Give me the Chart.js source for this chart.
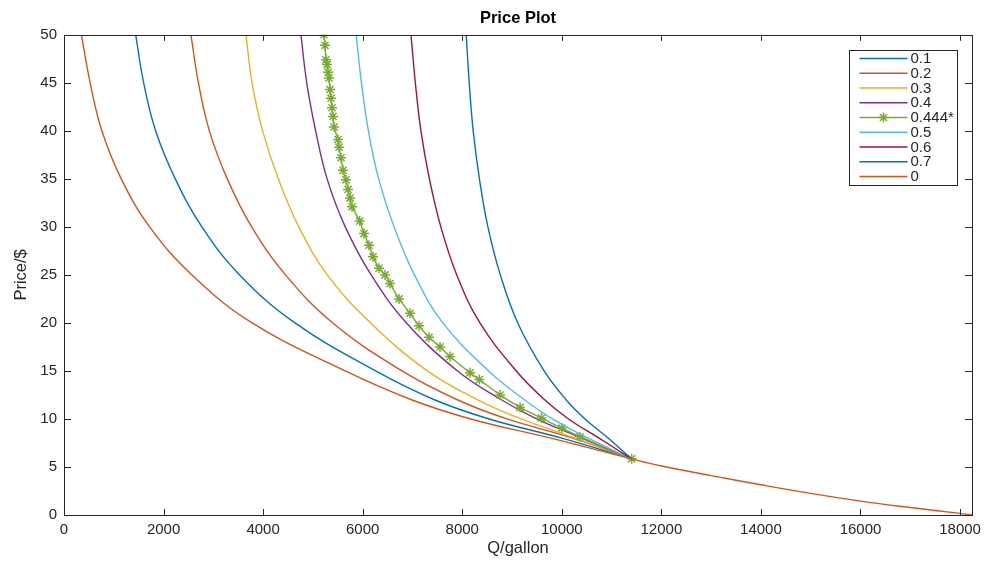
<!DOCTYPE html>
<html>
<head>
<meta charset="utf-8">
<script src="https://cdn.jsdelivr.net/npm/chart.js@4.4.1/dist/chart.umd.min.js"></script>
<style>
html,body{margin:0;padding:0;background:#ffffff;}
#c{display:block;}
</style>
</head>
<body>
<canvas id="c" width="989" height="562"></canvas>
<script>
// ---------- data ----------
const seriesLabels = ['0.1', '0.2', '0.3', '0.4', '0.444*', '0.5', '0.6', '0.7', '0'];
const xTicks = [0, 2000, 4000, 6000, 8000, 10000, 12000, 14000, 16000, 18000];
const yTicks = [0, 5, 10, 15, 20, 25, 30, 35, 40, 45, 50];

const Q_01 = [1440, 1600, 1840, 2235, 2770, 3528, 4640, 6260, 7440, 8540, 10000, 11400];
const P_01 = [50, 45, 40, 35, 30, 25, 20, 15, 12, 10, 8, 5.85];

const Q_02 = [2550, 2700, 2920, 3280, 3770, 4450, 5400, 6790, 7900, 8900, 10220, 11400];
const P_02 = [50, 45, 40, 35, 30, 25, 20, 15, 12, 10, 8, 5.85];

const Q_03 = [3655, 3778, 3990, 4305, 4718, 5290, 6160, 7300, 8308, 9185, 10268, 11400];
const P_03 = [50, 45, 40, 35, 30, 25, 20, 15, 12, 10, 8, 5.85];

const Q_04 = [4760, 4876, 5055, 5285, 5650, 6170, 6880, 7905, 8785, 9495, 10400, 11400];
const P_04 = [50, 45, 40, 35, 30, 25, 20, 15, 12, 10, 8, 5.85];

const Q_0444 = [5220, 5243, 5263, 5284, 5304, 5324, 5344, 5364, 5384, 5404, 5424, 5505, 5525, 5565, 5605, 5665, 5706, 5746, 5786, 5940,
                6027, 6127, 6208, 6328, 6449, 6549, 6730, 6951, 7132, 7333, 7554, 7755, 8156, 8344, 8759, 9161, 9590, 10000, 10366, 11405];
const P_0444 = [50, 48.9, 47.4, 46.9, 46.1, 45.5, 44.3, 43.4, 42.4, 41.5, 40.4, 39.1, 38.3, 37.2, 35.9, 34.9, 33.9, 33.0, 32.1, 30.6,
                29.3, 28.1, 26.9, 25.7, 25.0, 24.1, 22.5, 21.0, 19.7, 18.5, 17.5, 16.5, 14.8, 14.1, 12.5, 11.2, 10.1, 9.05, 8.15, 5.85];

const Q_05 = [5870, 5975, 6115, 6320, 6630, 7040, 7610, 8530, 9250, 9810, 10530, 11400];
const P_05 = [50, 45, 40, 35, 30, 25, 20, 15, 12, 10, 8, 5.85];

const Q_06 = [6970, 7058, 7170, 7340, 7570, 7890, 8355, 9085, 9655, 10135, 10750, 11400];
const P_06 = [50, 45, 40, 35, 30, 25, 20, 15, 12, 10, 8, 5.85];

const Q_07 = [8080, 8140, 8220, 8345, 8515, 8765, 9115, 9645, 10085, 10465, 10935, 11400];
const P_07 = [50, 45, 40, 35, 30, 25, 20, 15, 12, 10, 8, 5.85];

const Q_00 = [350, 525, 760, 1150, 1720, 2570, 3780, 5650, 6980, 8170, 9780, 11400,
              12000, 13000, 14000, 15000, 16000, 17000, 18000, 18240];
const P_00 = [50, 45, 40, 35, 30, 25, 20, 15, 12, 10, 8, 5.85,
              5.1, 4.1, 3.15, 2.25, 1.45, 0.78, 0.17, 0];

// ---------- styles ----------
const FONT = '"Liberation Sans", Arial, Helvetica, sans-serif';
const seriesColors = ['#0072BD', '#D95319', '#EDB120', '#7E2F8E', '#77AC30', '#4DBEEE', '#A2142F', '#0072BD', '#D95319'];
const seriesQ = [Q_01, Q_02, Q_03, Q_04, Q_0444, Q_05, Q_06, Q_07, Q_00];
const seriesP = [P_01, P_02, P_03, P_04, P_0444, P_05, P_06, P_07, P_00];
const STAR_INDEX = 4;

const datasets = seriesLabels.map((lab, i) => ({
  label: lab,
  data: seriesQ[i].map((q, k) => ({x: q, y: seriesP[i][k]})),
  showLine: true,
  borderColor: seriesColors[i],
  backgroundColor: seriesColors[i],
  borderWidth: 1.4,
  tension: i === STAR_INDEX ? 0.25 : 0.4,
  pointStyle: i === STAR_INDEX ? 'star' : 'circle',
  pointRadius: i === STAR_INDEX ? 5 : 0,
  pointBorderWidth: 1.5,
  pointBorderColor: seriesColors[i],
  pointHoverRadius: i === STAR_INDEX ? 5 : 0,
  order: seriesLabels.length - i
}));

const framePlugin = {
  id: 'matlabFrame',
  afterDatasetsDraw(chart) {
    const {ctx, chartArea: a, scales: {x, y}} = chart;
    ctx.save();
    ctx.strokeStyle = '#262626';
    ctx.lineWidth = 1;
    ctx.beginPath();
    x.ticks.forEach(t => {
      const p = Math.round(x.getPixelForValue(t.value)) + 0.5;
      ctx.moveTo(p, a.bottom); ctx.lineTo(p, a.bottom - 6);
      ctx.moveTo(p, a.top); ctx.lineTo(p, a.top + 6);
    });
    y.ticks.forEach(t => {
      const p = Math.round(y.getPixelForValue(t.value)) + 0.5;
      ctx.moveTo(a.left, p); ctx.lineTo(a.left + 7, p);
      ctx.moveTo(a.right, p); ctx.lineTo(a.right - 7, p);
    });
    ctx.stroke();
    ctx.strokeRect(Math.round(a.left) + 0.5, Math.round(a.top) + 0.5,
                   Math.round(a.right - a.left), Math.round(a.bottom - a.top));

    // legend box (top right, inside the axes)
    const bw = 108, bh = 135;
    const bx = Math.round(a.right - 15 - bw) + 0.5;
    const by = Math.round(a.top + 15) + 0.5;
    ctx.fillStyle = '#ffffff';
    ctx.fillRect(bx, by, bw, bh);
    ctx.strokeStyle = '#262626';
    ctx.lineWidth = 1;
    ctx.strokeRect(bx, by, bw, bh);
    ctx.font = '15px ' + FONT;
    ctx.textBaseline = 'middle';
    ctx.textAlign = 'left';
    chart.data.datasets.forEach((ds, i) => {
      const cy = by + 8 + i * 14.75;
      ctx.strokeStyle = ds.borderColor;
      ctx.lineWidth = 1.3;
      ctx.beginPath();
      ctx.moveTo(bx + 10, cy); ctx.lineTo(bx + 58, cy);
      ctx.stroke();
      if (i === STAR_INDEX) {
        ctx.lineWidth = 1.5;
        Chart.helpers.drawPoint(ctx, {pointStyle: 'star', radius: 5, borderWidth: 1.5}, bx + 34, cy);
      }
      ctx.fillStyle = '#262626';
      ctx.fillText(ds.label, bx + 61, cy + 0.5);
    });
    ctx.restore();
  }
};

new Chart(document.getElementById('c'), {
  type: 'scatter',
  data: {datasets},
  options: {
    responsive: false,
    animation: false,
    devicePixelRatio: 1,
    events: [],
    layout: {padding: {left: 0, right: 17, top: 0, bottom: 0}},
    plugins: {
      legend: {display: false},
      tooltip: {enabled: false},
      title: {
        display: true, text: 'Price Plot', color: '#000000', fullSize: false,
        font: {family: FONT, size: 16.5, weight: 'bold'},
        padding: {top: 9, bottom: 6}
      }
    },
    scales: {
      x: {
        type: 'linear', min: 0, max: 18240,
        grid: {display: false, drawTicks: false}, border: {display: false},
        afterBuildTicks: s => { s.ticks = xTicks.map(v => ({value: v})); },
        afterFit: s => { s.height = 47; },
        ticks: {color: '#262626', font: {family: FONT, size: 15}, padding: 6, maxRotation: 0, autoSkip: false,
                callback: v => String(v)},
        title: {display: true, text: 'Q/gallon', color: '#262626', font: {family: FONT, size: 16.5},
                padding: {top: 0, bottom: 4}}
      },
      y: {
        type: 'linear', min: 0, max: 50,
        grid: {display: false, drawTicks: false}, border: {display: false},
        afterBuildTicks: s => { s.ticks = yTicks.map(v => ({value: v})); },
        afterFit: s => { s.width = 64; },
        ticks: {color: '#262626', font: {family: FONT, size: 15}, padding: 7, autoSkip: false,
                callback: v => String(v)},
        title: {display: true, text: 'Price/$', color: '#262626', font: {family: FONT, size: 16.5},
                padding: {top: 12, bottom: 0}}
      }
    }
  },
  plugins: [framePlugin]
});
</script>
</body>
</html>
